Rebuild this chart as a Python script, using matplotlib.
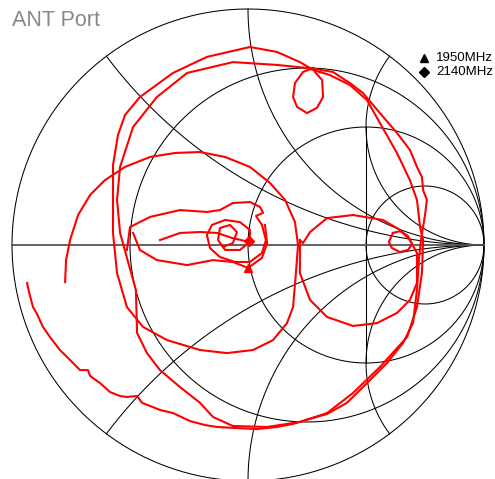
import numpy as np
import matplotlib.pyplot as plt

# Smith chart grid values
r_values = [1/3, 1, 3]
x_values = [0.5, 1, 2]

# trace (reflection coefficient, re / im)
spiral_re = [-0.936, -0.928, -0.911, -0.894, -0.869, -0.839, -0.797, -0.754, -0.712, -0.678, -0.669, -0.627,
             -0.585, -0.542, -0.513, -0.470, -0.449, -0.415, -0.373, -0.318, -0.246, -0.182, -0.131, -0.064,
             0.038, 0.123, 0.191, 0.275, 0.335, 0.419, 0.504, 0.589, 0.657, 0.699, 0.716, 0.725, 0.733, 0.750,
             0.758, 0.742, 0.737, 0.716, 0.686, 0.631, 0.559, 0.487, 0.432, 0.360, 0.263, 0.220, 0.123, 0.008,
             -0.174, -0.318, -0.458, -0.521, -0.551, -0.572, -0.572, -0.572, -0.555, -0.513, -0.445, -0.343,
             -0.203, -0.089, 0.021, 0.106, 0.165, 0.191, 0.203, 0.212, 0.199, 0.157, 0.093, 0.008, -0.097,
             -0.203, -0.309, -0.415, -0.521, -0.606, -0.669, -0.720, -0.754, -0.771, -0.775]
spiral_im = [-0.161, -0.199, -0.263, -0.292, -0.347, -0.390, -0.445, -0.487, -0.530, -0.530, -0.555, -0.585,
             -0.623, -0.640, -0.644, -0.640, -0.669, -0.682, -0.699, -0.712, -0.746, -0.763, -0.771, -0.775,
             -0.780, -0.771, -0.758, -0.733, -0.716, -0.669, -0.585, -0.500, -0.415, -0.331, -0.191, -0.051,
             0.021, 0.127, 0.191, 0.233, 0.288, 0.331, 0.403, 0.475, 0.559, 0.644, 0.686, 0.733, 0.750, 0.775,
             0.818, 0.839, 0.797, 0.729, 0.627, 0.551, 0.466, 0.339, 0.191, 0.051, -0.119, -0.263, -0.347,
             -0.403, -0.445, -0.458, -0.445, -0.403, -0.331, -0.263, -0.119, 0.0, 0.097, 0.191, 0.263, 0.331,
             0.373, 0.394, 0.390, 0.373, 0.331, 0.275, 0.212, 0.127, 0.021, -0.064, -0.157]

inner_re = [0.305, 0.250, 0.123, -0.064, -0.258, -0.386, -0.487, -0.542, -0.555, -0.542, -0.508, -0.475,
            -0.470, -0.428, -0.373, -0.288, -0.203, -0.148, -0.064, 0.081, 0.220, 0.335, 0.445, 0.559,
            0.674, 0.716, 0.737, 0.742, 0.729, 0.716, 0.686, 0.631, 0.559, 0.504, 0.432, 0.347, 0.305]
inner_im = [0.733, 0.750, 0.763, 0.775, 0.729, 0.627, 0.500, 0.331, 0.191, 0.051, -0.072, -0.191,
            -0.373, -0.458, -0.530, -0.602, -0.669, -0.729, -0.767, -0.771, -0.750, -0.712, -0.627, -0.517,
            -0.390, -0.263, -0.119, 0.021, 0.076, 0.191, 0.275, 0.390, 0.517, 0.614, 0.678, 0.720, 0.733]

top_loop_re = [0.275, 0.233, 0.199, 0.191, 0.208, 0.250, 0.292, 0.318, 0.314, 0.284, 0.275]
top_loop_im = [0.750, 0.733, 0.686, 0.627, 0.585, 0.559, 0.581, 0.627, 0.699, 0.733, 0.750]

right_loop_re = [0.220, 0.220, 0.263, 0.335, 0.445, 0.547, 0.631, 0.686, 0.716, 0.716, 0.686, 0.644,
                 0.572, 0.445, 0.335, 0.263, 0.233, 0.220]
right_loop_im = [0.021, -0.119, -0.233, -0.305, -0.343, -0.331, -0.288, -0.233, -0.161, -0.034, 0.021,
                 0.064, 0.106, 0.127, 0.114, 0.055, 0.008, 0.021]

small_loop_re = [0.614, 0.597, 0.610, 0.644, 0.678, 0.695, 0.678, 0.644, 0.614]
small_loop_im = [0.051, 0.013, -0.013, -0.030, -0.021, 0.004, 0.038, 0.059, 0.051]

# tangle of small loops around the chart centre
center_re = [-0.513, -0.500, -0.415, -0.288, -0.174, -0.119, -0.064, 0.008, 0.051, 0.064, 0.034, 0.059,
             0.076, 0.059, 0.008, -0.055, -0.119, -0.161, -0.174, -0.153, -0.097, -0.034, 0.008, 0.008,
             -0.034, -0.097, -0.127, -0.119, -0.076, -0.047, -0.064, -0.106]
center_im = [-0.021, 0.076, 0.119, 0.148, 0.140, 0.148, 0.178, 0.182, 0.161, 0.136, 0.123, 0.085,
             0.021, -0.034, -0.072, -0.072, -0.051, -0.013, 0.042, 0.085, 0.106, 0.097, 0.064, 0.013,
             -0.021, -0.021, 0.021, 0.072, 0.085, 0.055, 0.008, -0.008]

cross_re = [-0.373, -0.288, -0.203, -0.131, -0.068, -0.013]
cross_im = [0.021, 0.051, 0.055, 0.051, 0.030, 0.017]

low_re = [-0.487, -0.458, -0.386, -0.258, -0.148, -0.064, 0.0, 0.059, 0.081, 0.072]
low_im = [0.051, -0.021, -0.064, -0.085, -0.064, -0.072, -0.097, -0.055, 0.008, 0.085]

markers = {'1950MHz': (0.0, -0.097, '^'), '2140MHz': (0.004, 0.017, 'D')}

fig = plt.figure(figsize=(4.95, 4.79), dpi=100)
ax = fig.add_axes([0, 0, 1, 1])
ax.set_xlim(-248 / 236, 247 / 236)
ax.set_ylim(-234 / 236, 245 / 236)
ax.axis('off')

gc = 'black'
glw = 0.75
t = np.linspace(0, 2 * np.pi, 721)
ax.plot(np.cos(t), np.sin(t), color=gc, lw=glw)
for r in r_values:
    c = r / (1 + r)
    rad = 1 / (1 + r)
    ax.plot(c + rad * np.cos(t), rad * np.sin(t), color=gc, lw=glw)
rr = np.concatenate([[0], np.logspace(-3, 3, 600)])
for x in x_values:
    for s in (1, -1):
        z = rr + 1j * s * x
        g = (z - 1) / (z + 1)
        ax.plot(g.real, g.imag, color=gc, lw=glw)
# the chart also joins the x=+2 and x=-2 arcs at their leftmost points
ax.plot([0.5, 0.5], [0.5, -0.5], color=gc, lw=glw)
ax.plot([-1, 1], [0, 0], color='#555555', lw=1.3)

tc = '#ff0000'
tlw = 1.5
for xs, ys in [(spiral_re, spiral_im), (inner_re, inner_im), (top_loop_re, top_loop_im),
               (right_loop_re, right_loop_im), (small_loop_re, small_loop_im), (center_re, center_im),
               (cross_re, cross_im), (low_re, low_im)]:
    ax.plot(xs, ys, color=tc, lw=tlw, solid_joinstyle='round')

for name, (mx, my, m) in markers.items():
    ax.plot(mx, my, marker=m, color=tc, ms=6 if m == '^' else 5, ls='none')

# legend
for i, (name, (mx, my, m)) in enumerate(markers.items()):
    ly = 0.792 - i * 0.061
    ax.plot(0.746, ly, marker=m, color='black', ms=6 if m == '^' else 5, ls='none')
    ax.text(0.797, ly, name, fontsize=9.5, family='Liberation Sans', va='center', ha='left')

fig.text(12 / 495, 1 - 10 / 479, 'ANT Port', fontsize=15.5, family='Liberation Sans', color='#888888',
         va='top', ha='left')

fig.savefig('out.png', dpi=100)
